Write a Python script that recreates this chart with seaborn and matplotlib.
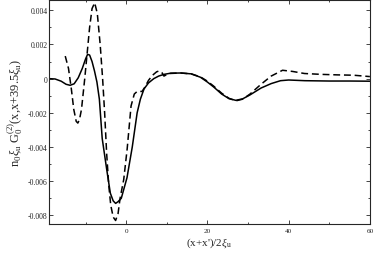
import pandas as pd
import matplotlib
matplotlib.use("Agg")
import matplotlib.pyplot as plt
from matplotlib.ticker import MultipleLocator, FuncFormatter
import seaborn as sns

# values (y in units of 1e-3)
x_solid = [-19, -17.5, -16, -14.8, -13.8, -12.8, -11.8, -10.8, -10, -9.5, -9.0, -8.4, -7.8,
           -7.2, -6.6, -5.9, -4.8, -3.9, -3.2, -2.6, -2.0, -1.2, 0.2, 1.5, 2.7, 3.5, 4.4,
           5.5, 6.8, 8, 9.3, 11, 13.4, 16, 18.3, 20, 21.6, 23.5, 25.3, 27, 28.7, 30.5,
           33.2, 35.7, 38, 40, 44, 50, 55, 60]
y_solid = [0.0, -0.02, -0.15, -0.33, -0.39, -0.3, 0.05, 0.6, 1.15, 1.42, 1.38, 1.0, 0.45,
           -0.2, -1.2, -3.5, -5.3, -6.7, -7.15, -7.3, -7.2, -7.0, -5.8, -4.0, -2.0, -1.2, -0.6,
           -0.25, 0.0, 0.15, 0.25, 0.32, 0.33, 0.28, 0.08, -0.2, -0.5, -0.9, -1.17, -1.27, -1.18, -0.95,
           -0.55, -0.29, -0.12, -0.08, -0.12, -0.14, -0.14, -0.15]

x_dash = [-15, -14.2, -13.5, -12.9, -12.3, -11.9, -11.5, -11.0, -10.2, -9.6, -9.0, -8.4, -7.75,
          -7.1, -6.4, -5.8, -5.3, -4.8, -4.3, -3.8, -3.2, -2.6, -2.0, -1.5, -0.6, 0.25, 1.2,
          2.0, 2.7, 3.9, 4.6, 5.5, 6.5, 7.5, 8.1, 8.8, 9.3, 10.5, 13.4, 16, 18.3, 20, 21.6,
          23.5, 25.3, 27, 28.7, 30.5, 33.2, 35.7, 38.5, 41, 43.9, 48, 52, 56, 60]
y_dash = [1.32, 0.6, -0.6, -1.8, -2.5, -2.6, -2.4, -1.8, 0.0, 1.5, 3.0, 4.1, 4.44,
          3.8, 2.0, 0.0, -2.0, -4.4, -6.2, -7.4, -8.1, -8.3, -7.9, -7.0, -5.9, -4.1, -1.6,
          -0.9, -0.75, -0.75, -0.5, -0.1, 0.2, 0.4, 0.45, 0.35, 0.15, 0.3, 0.33, 0.28, 0.1, -0.15, -0.45,
          -0.85, -1.15, -1.3, -1.2, -0.9, -0.33, 0.15, 0.49, 0.42, 0.3, 0.25, 0.22, 0.2, 0.12]

solid = pd.DataFrame({'x': x_solid, 'y': [v * 1e-3 for v in y_solid]})
dashed = pd.DataFrame({'x': x_dash, 'y': [v * 1e-3 for v in y_dash]})

sns.set_style("ticks")
plt.rcParams['font.family'] = ['Liberation Serif', 'DejaVu Serif']
plt.rcParams['mathtext.fontset'] = 'custom'
plt.rcParams['mathtext.rm'] = 'Liberation Serif'
plt.rcParams['mathtext.it'] = 'Liberation Serif:italic'

fig = plt.figure(figsize=(3.74, 2.55), dpi=100)
ax = fig.add_axes([0.131, 0.118, 0.858, 0.878])

sns.lineplot(data=solid, x='x', y='y', sort=False, color='black', lw=1.1, ax=ax)
sns.lineplot(data=dashed, x='x', y='y', sort=False, color='black', lw=1.1, ax=ax,
             linestyle=(0, (4.5, 2.5)))

ax.set_xlim(-19, 60)
ax.set_ylim(-0.0085, 0.0046)
ax.xaxis.set_major_locator(MultipleLocator(20))
ax.xaxis.set_minor_locator(MultipleLocator(10))
ax.yaxis.set_major_locator(MultipleLocator(0.002))
ax.yaxis.set_minor_locator(MultipleLocator(0.001))
ax.yaxis.set_major_formatter(FuncFormatter(lambda v, p: '0' if abs(v) < 1e-9 else f'{v:.3f}'))
ax.tick_params(which='both', direction='in', top=True, right=True)
ax.tick_params(axis='x', labelsize=5.2, pad=3)
ax.tick_params(axis='y', labelsize=5.6, pad=1)
ax.tick_params(which='major', length=3, width=0.6)
ax.tick_params(which='minor', length=1.5, width=0.6)
for s in ax.spines.values():
    s.set_linewidth(0.8)

ax.set_xlabel(r"(x+x')/2$\xi_\mathrm{u}$", fontsize=8, labelpad=1.5)
ax.set_ylabel(r"n$_\mathrm{0}\xi_\mathrm{u}$ G$_\mathrm{0}^{\mathrm{(2)}}$(x,x+39.5$\xi_\mathrm{u}$)",
              fontsize=9, labelpad=2)

plt.savefig('out.png', dpi=100)
